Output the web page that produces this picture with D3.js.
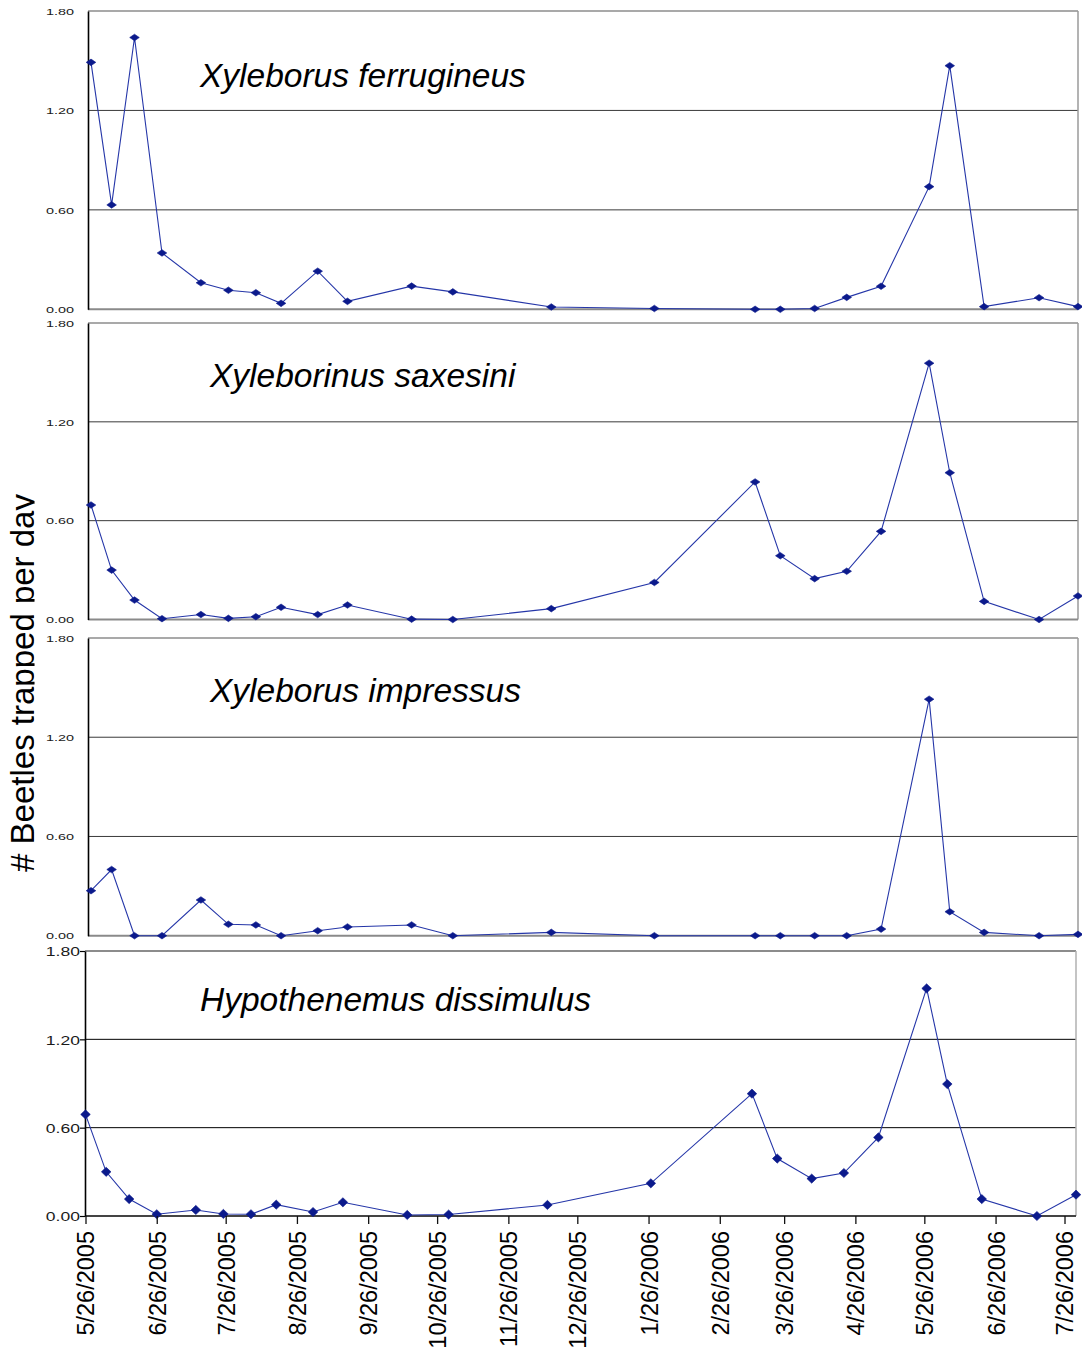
<!DOCTYPE html>
<html>
<head>
<meta charset="utf-8">
<script src="https://cdn.jsdelivr.net/npm/d3@7/dist/d3.min.js"></script>
<style>
  html, body { margin: 0; padding: 0; background: #ffffff; }
  svg { display: block; font-family: "Liberation Sans", Arial, sans-serif; }
</style>
</head>
<body>
<svg id="chart" width="1082" height="1352"></svg>
<script>
// Sampling dates (trap collections)
const sampleDates = ["2005-05-26", "2005-06-04", "2005-06-14", "2005-06-26", "2005-07-13", "2005-07-25",
  "2005-08-06", "2005-08-17", "2005-09-02", "2005-09-15", "2005-10-13", "2005-10-31",
  "2005-12-13", "2006-01-27", "2006-03-12", "2006-03-23", "2006-04-07", "2006-04-21",
  "2006-05-06", "2006-05-27", "2006-06-05", "2006-06-20", "2006-07-14", "2006-07-31"];

// Beetles trapped per day, one array per species
const ferrugineus = [1.49, 0.63, 1.64, 0.34, 0.16, 0.115, 0.10, 0.036, 0.23, 0.048, 0.14, 0.105,
  0.014, 0.005, 0.0, 0.0, 0.005, 0.072, 0.139, 0.74, 1.47, 0.016, 0.07, 0.016];
const saxesini = [0.695, 0.30, 0.118, 0.005, 0.03, 0.007, 0.017, 0.074, 0.03, 0.088, 0.002, 0.0,
  0.066, 0.225, 0.835, 0.387, 0.248, 0.293, 0.535, 1.556, 0.891, 0.11, 0.0, 0.143];
const impressus = [0.272, 0.40, 0.0, 0.0, 0.216, 0.069, 0.065, 0.0, 0.03, 0.053, 0.065, 0.0,
  0.02, 0.0, 0.0, 0.0, 0.0, 0.0, 0.04, 1.43, 0.145, 0.02, 0.0, 0.008];
const dissimulus = [0.69, 0.30, 0.115, 0.012, 0.041, 0.014, 0.012, 0.077, 0.027, 0.093, 0.007, 0.01,
  0.075, 0.222, 0.831, 0.39, 0.254, 0.292, 0.534, 1.546, 0.896, 0.115, 0.0, 0.145];

const speciesNames = ["Xyleborus ferrugineus", "Xyleborinus saxesini", "Xyleborus impressus", "Hypothenemus dissimulus"];
const yTickValues = [0, 0.6, 1.2, 1.8];
const xTickLabels = ["5/26/2005", "6/26/2005", "7/26/2005", "8/26/2005", "9/26/2005", "10/26/2005",
  "11/26/2005", "12/26/2005", "1/26/2006", "2/26/2006", "3/26/2006", "4/26/2006",
  "5/26/2006", "6/26/2006", "7/26/2006"];
const dateDomain = ["2005-05-26", "2006-07-31"];
const yAxisTitle = "# Beetles trapped per day";

const parseISO = d3.timeParse("%Y-%m-%d");
const parseUS = d3.timeParse("%m/%d/%Y");
const dates = sampleDates.map(parseISO);
const domain = dateDomain.map(parseISO);
const tickDates = xTickLabels.map(parseUS);

const svg = d3.select("#chart");
svg.append("rect").attr("width", 1082).attr("height", 1352).attr("fill", "#ffffff");

const LINE = "#2536a8";
const MARK = "#0b1a8c";

// Panel layout: three compact upper panels and a larger bottom panel carrying the date axis
const panels = [
  { values: ferrugineus, name: speciesNames[0], top: 11, bottom: 309.3, left: 88, right: 1078, dataLeft: 91, small: true, titleX: 200, titleY: 87 },
  { values: saxesini, name: speciesNames[1], top: 323, bottom: 619.5, left: 88, right: 1078, dataLeft: 91, small: true, titleX: 210, titleY: 387 },
  { values: impressus, name: speciesNames[2], top: 638, bottom: 935.7, left: 88, right: 1078, dataLeft: 91, small: true, titleX: 210, titleY: 702 },
  { values: dissimulus, name: speciesNames[3], top: 951, bottom: 1216, left: 85, right: 1076, dataLeft: 85.5, small: false, titleX: 200, titleY: 1011 }
];

panels.forEach((p) => {
  const g = svg.append("g");
  const x = d3.scaleTime().domain(domain).range([p.dataLeft, p.right]);
  const y = d3.scaleLinear().domain([0, 1.8]).range([p.bottom, p.top]);

  // gridlines
  g.selectAll("line.grid")
    .data([0.6, 1.2])
    .join("line")
    .attr("x1", p.left).attr("x2", p.right)
    .attr("y1", (d) => y(d)).attr("y2", (d) => y(d))
    .attr("stroke", p.small ? "#3a3a3a" : "#000000")
    .attr("stroke-width", 1);

  // frame: top and right borders, zero line
  g.append("line").attr("x1", p.left).attr("x2", p.right).attr("y1", y(1.8)).attr("y2", y(1.8))
    .attr("stroke", "#8c8c8c").attr("stroke-width", p.small ? 1.5 : 2);
  g.append("line").attr("x1", p.right).attr("x2", p.right).attr("y1", y(1.8)).attr("y2", y(0))
    .attr("stroke", p.small ? "#9a9a9a" : "#b0b0b0").attr("stroke-width", 1.5);
  g.append("line").attr("x1", p.left).attr("x2", p.right).attr("y1", y(0)).attr("y2", y(0))
    .attr("stroke", p.small ? "#8a8a8a" : "#444444").attr("stroke-width", 2);

  // y axis
  const yAxis = d3.axisLeft(y).tickValues(yTickValues).tickFormat(d3.format(".2f"))
    .tickSize(p.small ? 0 : 5).tickSizeOuter(0);
  const ya = g.append("g").attr("transform", `translate(${p.left},0)`).call(yAxis);
  ya.select(".domain").attr("stroke", "#000").attr("stroke-width", 1.6);
  ya.selectAll(".tick line").attr("stroke", "#000").attr("stroke-width", 1.2);
  ya.selectAll(".tick text")
    .attr("x", 0)
    .attr("dy", "0.36em")
    .attr("fill", "#1a1a1a")
    .attr("font-family", "'Liberation Sans', Arial, sans-serif")
    .attr("font-size", p.small ? 9 : 13.5)
    .attr("text-anchor", "end")
    .attr("transform", p.small ? "translate(-14,0) scale(1.6,1)" : "translate(-5,0) scale(1.3,1)");

  // series line
  const line = d3.line().x((d, i) => x(dates[i])).y((d) => y(d));
  g.append("path").datum(p.values)
    .attr("d", line)
    .attr("fill", "none")
    .attr("stroke", LINE)
    .attr("stroke-width", 1.1);

  // diamond markers
  const hw = 4.8, hh = p.small ? 3.3 : 4.6;
  g.selectAll("path.mark")
    .data(p.values)
    .join("path")
    .attr("class", "mark")
    .attr("transform", (d, i) => `translate(${x(dates[i])},${y(d)})`)
    .attr("d", `M${-hw},0L0,${-hh}L${hw},0L0,${hh}Z`)
    .attr("fill", MARK)
    .attr("stroke", MARK)
    .attr("stroke-width", 0.6);

  // species title
  g.append("text")
    .attr("x", p.titleX).attr("y", p.titleY)
    .attr("font-size", 33.5)
    .attr("font-style", "italic")
    .attr("fill", "#000")
    .text(p.name);

  // date axis on the bottom panel
  if (!p.small) {
    const xAxis = d3.axisBottom(x).tickValues(tickDates)
      .tickFormat((d, i) => xTickLabels[i]).tickSize(8).tickSizeOuter(0);
    const xa = g.append("g").attr("transform", `translate(0,${p.bottom})`).call(xAxis);
    xa.select(".domain").remove();
    xa.selectAll(".tick line").attr("stroke", "#111").attr("stroke-width", 1.3);
    xa.selectAll(".tick text")
      .attr("x", 0).attr("y", 0).attr("dy", "0.36em")
      .attr("fill", "#000")
      .attr("font-family", "'Liberation Sans', Arial, sans-serif")
      .attr("font-size", 23.5)
      .attr("text-anchor", "end")
      .attr("transform", "translate(0,15) rotate(-90)");
  }
});

// shared y-axis title, trimmed along its baseline
const defs = svg.append("defs");
defs.append("clipPath").attr("id", "titleClip")
  .append("rect").attr("x", 0).attr("y", 0).attr("width", 34.5).attr("height", 1352);
svg.append("g").attr("clip-path", "url(#titleClip)")
  .append("text")
  .attr("transform", "translate(33.5,683) rotate(-90)")
  .attr("text-anchor", "middle")
  .attr("font-size", 33)
  .attr("fill", "#000")
  .text(yAxisTitle);
</script>
</body>
</html>
